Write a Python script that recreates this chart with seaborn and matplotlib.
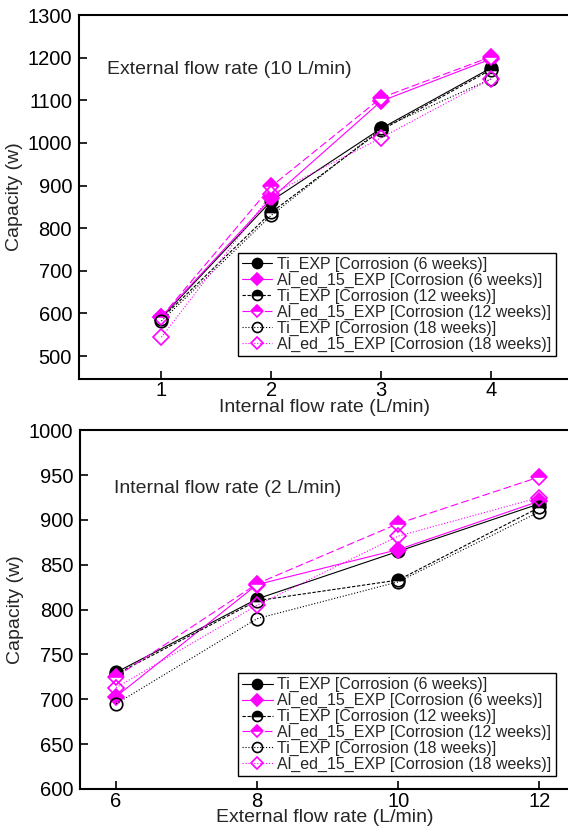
import matplotlib
matplotlib.use("Agg")
import matplotlib.pyplot as plt
import seaborn as sns
import pandas as pd

sns.set_theme(style="white")
plt.rcParams["font.family"] = ["Liberation Sans", "DejaVu Sans"]

# ---- data -------------------------------------------------------------
internal_flow = [1, 2, 3, 4]          # L/min, external flow fixed at 10 L/min
ti_6w_top = [590, 864, 1034, 1176]
al_6w_top = [592, 870, 1098, 1197]
ti_12w_top = [588, 837, 1030, 1172]
al_12w_top = [592, 898, 1106, 1202]
ti_18w_top = [582, 830, 1034, 1150]
al_18w_top = [544, 879, 1012, 1150]

external_flow = [6, 8, 10, 12]        # L/min, internal flow fixed at 2 L/min
ti_6w_bot = [730, 812, 865, 918]
al_6w_bot = [703, 828, 867, 921]
ti_12w_bot = [728, 810, 833, 914]
al_12w_bot = [725, 829, 896, 948]
ti_18w_bot = [695, 790, 831, 909]
al_18w_bot = [713, 805, 882, 925]

labels = [
    "Ti_EXP [Corrosion (6 weeks)]",
    "Al_ed_15_EXP [Corrosion (6 weeks)]",
    "Ti_EXP [Corrosion (12 weeks)]",
    "Al_ed_15_EXP [Corrosion (12 weeks)]",
    "Ti_EXP [Corrosion (18 weeks)]",
    "Al_ed_15_EXP [Corrosion (18 weeks)]",
]

MAG = "#ff00ff"
styles = [
    dict(color="black", marker="o", linestyle="-", fillstyle="full", markersize=9),
    dict(color=MAG, marker="D", linestyle="-", fillstyle="full", markersize=8),
    dict(color="black", marker="o", linestyle=(0, (3, 1.5)), fillstyle="top", markersize=9),
    dict(color=MAG, marker="D", linestyle=(0, (7, 3)), fillstyle="top", markersize=8),
    dict(color="black", marker="o", linestyle=":", fillstyle="none", markersize=9),
    dict(color=MAG, marker="D", linestyle=":", fillstyle="none", markersize=8),
]


def draw(ax, x, series):
    for lab, ys, st in zip(labels, series, styles):
        df = pd.DataFrame({"x": x, "y": ys})
        sns.lineplot(data=df, x="x", y="y", ax=ax, sort=False, errorbar=None,
                     label=lab, color=st["color"], marker=st["marker"],
                     linestyle=st["linestyle"], fillstyle=st["fillstyle"],
                     markersize=st["markersize"], markeredgecolor=st["color"],
                     markerfacecoloralt="white", markeredgewidth=1.2,
                     linewidth=0.8)


def style_axes(ax):
    for s in ax.spines.values():
        s.set_color("black")
        s.set_linewidth(1.5)
    ax.tick_params(direction="in", length=6, width=1.2, labelsize=14.5,
                   colors="black", left=True, bottom=True)
    ax.tick_params(axis="y", pad=5)
    ax.tick_params(axis="x", pad=2)
    ax.grid(False)


fig = plt.figure(figsize=(5.68, 8.34), dpi=100)
ax1 = fig.add_axes([0.139, 0.546, 0.865, 0.436])
ax2 = fig.add_axes([0.141, 0.054, 0.863, 0.430])

draw(ax1, internal_flow,
     [ti_6w_top, al_6w_top, ti_12w_top, al_12w_top, ti_18w_top, al_18w_top])
draw(ax2, external_flow,
     [ti_6w_bot, al_6w_bot, ti_12w_bot, al_12w_bot, ti_18w_bot, al_18w_bot])

ax1.set_xlim(0.25, 4.72)
ax1.set_ylim(447, 1300)
ax1.set_xticks(internal_flow)
ax1.set_yticks(range(500, 1301, 100))
ax1.set_xlabel("Internal flow rate (L/min)", fontsize=14, labelpad=-1)
ax1.set_ylabel("Capacity (w)", fontsize=14, labelpad=3)
ax1.text(0.057, 0.849, "External flow rate (10 L/min)", transform=ax1.transAxes,
         fontsize=14, va="center", ha="left")

ax2.set_xlim(5.49, 12.44)
ax2.set_ylim(600, 1000)
ax2.set_xticks(external_flow)
ax2.set_yticks(range(600, 1001, 50))
ax2.set_xlabel("External flow rate (L/min)", fontsize=14, labelpad=-1)
ax2.set_ylabel("Capacity (w)", fontsize=14, labelpad=3)
ax2.text(0.070, 0.839, "Internal flow rate (2 L/min)", transform=ax2.transAxes,
         fontsize=14, va="center", ha="left")

for ax, anchor in ((ax1, (0.97, 0.063)), (ax2, (0.97, 0.036))):
    style_axes(ax)
    leg = ax.legend(loc="lower right", bbox_to_anchor=anchor, fontsize=11.5,
                    frameon=True, fancybox=False, framealpha=1,
                    edgecolor="black", labelspacing=0.05, handlelength=1.9,
                    handletextpad=0.3, borderpad=0.25, borderaxespad=0,
                    markerscale=0.8)
    leg.get_frame().set_linewidth(1.0)

fig.savefig("out.png", dpi=100)
